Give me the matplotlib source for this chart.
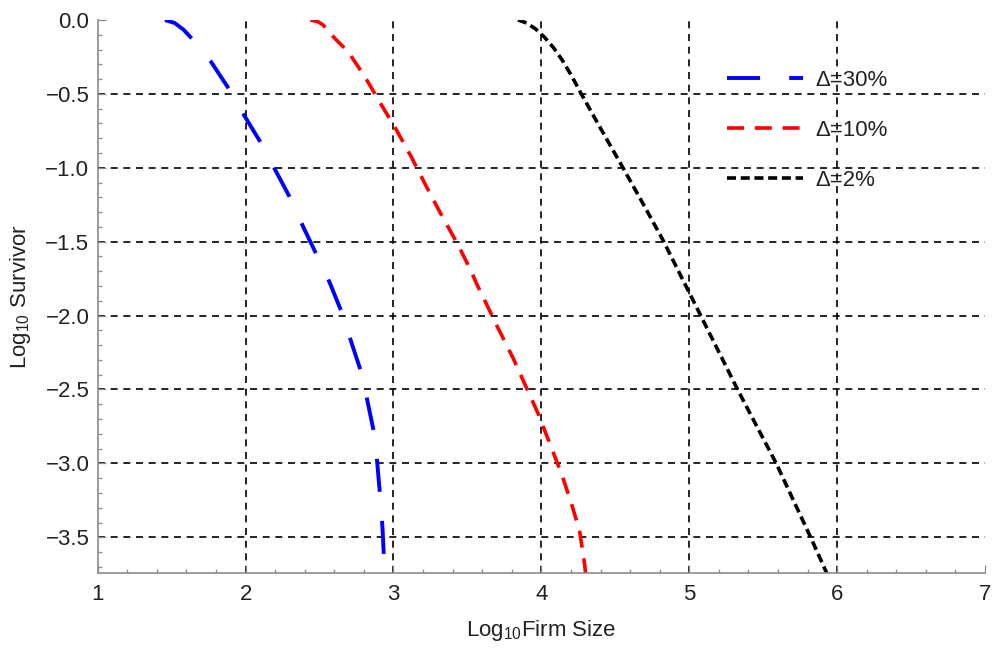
import matplotlib
matplotlib.use("Agg")
import matplotlib.pyplot as plt

plt.rcParams['font.family'] = ['Liberation Sans', 'DejaVu Sans']
plt.rcParams['mathtext.fontset'] = 'custom'
plt.rcParams['mathtext.rm'] = 'Liberation Sans'

# ---- data ----
x30 = [1.455, 1.52, 1.58, 1.635, 1.766, 1.889, 1.989, 2.108, 2.198, 2.311, 2.389, 2.486,
       2.57, 2.655, 2.716, 2.788, 2.828, 2.874, 2.892, 2.912, 2.926, 2.937, 2.945]
y30 = [0.0, -0.02, -0.065, -0.124, -0.282, -0.469, -0.643, -0.839, -1.01, -1.222, -1.398, -1.601,
       -1.78, -1.99, -2.183, -2.402, -2.598, -2.819, -3.018, -3.248, -3.44, -3.676, -3.76]

x10 = [2.439, 2.49, 2.524, 2.603, 2.693, 2.806, 2.91, 3.02, 3.12, 3.223, 3.324, 3.437,
       3.527, 3.56, 3.70, 3.81, 3.90, 3.977, 4.056, 4.135, 4.203, 4.259, 4.293, 4.30]
y10 = [0.0, -0.012, -0.034, -0.124, -0.214, -0.383, -0.56, -0.744, -0.925, -1.128, -1.319, -1.522,
       -1.703, -1.78, -2.07, -2.29, -2.49, -2.661, -2.864, -3.067, -3.27, -3.462, -3.687, -3.76]

x2 = [3.842, 3.90, 3.96, 4.02, 4.08, 4.14, 4.20, 4.27, 4.394, 4.541, 4.686, 4.822, 4.923, 5.002,
      5.07, 5.328, 5.588, 5.824, 5.93, 5.94]
y2 = [0.0, -0.02, -0.06, -0.115, -0.185, -0.27, -0.37, -0.5, -0.722, -0.981, -1.24, -1.489,
      -1.691, -1.849, -1.985, -2.503, -3.0, -3.507, -3.744, -3.76]

labels = ['Δ=30%', 'Δ=10%', 'Δ=2%']
xticks = [1, 2, 3, 4, 5, 6, 7]
yticks = [0.0, -0.5, -1.0, -1.5, -2.0, -2.5, -3.0, -3.5]

fig = plt.figure(figsize=(9.97, 6.56), dpi=100)
ax = fig.add_axes([0.098, 0.126, 0.89, 0.8435])

tc = '#222222'
fs = 16
ax.plot(x30, y30, color='#0000ff', lw=2.8, dashes=(8.5, 7.5), label=labels[0])
ax.plot(x10, y10, color='#ff0000', lw=2.6, dashes=(4.7, 3.0), label=labels[1])
ax.plot(x2, y2, color='#000000', lw=2.6, dashes=(2.5, 1.3), label=labels[2])

ax.set_xlim(1, 7)
ax.set_ylim(-3.744, 0)
ax.set_xticks(xticks)
ax.set_yticks(yticks)
ax.set_xticklabels([str(v) for v in xticks])
ax.set_yticklabels([f'{v:.1f}'.replace('-', '\u2212') for v in yticks])
ax.set_xticks([v / 10 for v in range(10, 71, 2)], minor=True)
ax.set_yticks([-v / 10 for v in range(0, 38)], minor=True)

for s in ['top', 'right']:
    ax.spines[s].set_visible(False)
for s in ['left', 'bottom']:
    ax.spines[s].set_color('#8c8c8c')
    ax.spines[s].set_linewidth(1.2)

ax.tick_params(which='both', direction='in', color='#8c8c8c', width=0.9)
ax.tick_params(which='major', length=6, labelsize=fs, labelcolor=tc)
ax.tick_params(which='minor', length=3)
ax.tick_params(axis='x', which='major', pad=8)
ax.tick_params(axis='y', which='major', pad=6)

ax.grid(True, which='major', color='black', lw=1.2, dashes=(4.2, 3.4))
for t, v in zip(ax.xaxis.get_major_ticks(), xticks):
    if v in (1, 7):
        t.gridline.set_visible(False)
for t, v in zip(ax.yaxis.get_major_ticks(), yticks):
    if v == 0.0:
        t.gridline.set_visible(False)
ax.set_axisbelow(True)

ax.set_xlabel(r'Log$_{\mathregular{10}}$Firm Size', fontsize=fs, color=tc, labelpad=9)
ax.set_ylabel(r'Log$_{\mathregular{10}}$ Survivor', fontsize=fs, color=tc, labelpad=9)

leg = ax.legend(loc='upper left', bbox_to_anchor=(727 / 997, 1 - 70 / 656),
                bbox_transform=fig.transFigure, frameon=False, fontsize=fs,
                handlelength=3.42, handletextpad=0.54, labelspacing=1.3,
                borderpad=0, borderaxespad=0)
for t in leg.get_texts():
    t.set_color(tc)

fig.savefig('out.png', dpi=100)
